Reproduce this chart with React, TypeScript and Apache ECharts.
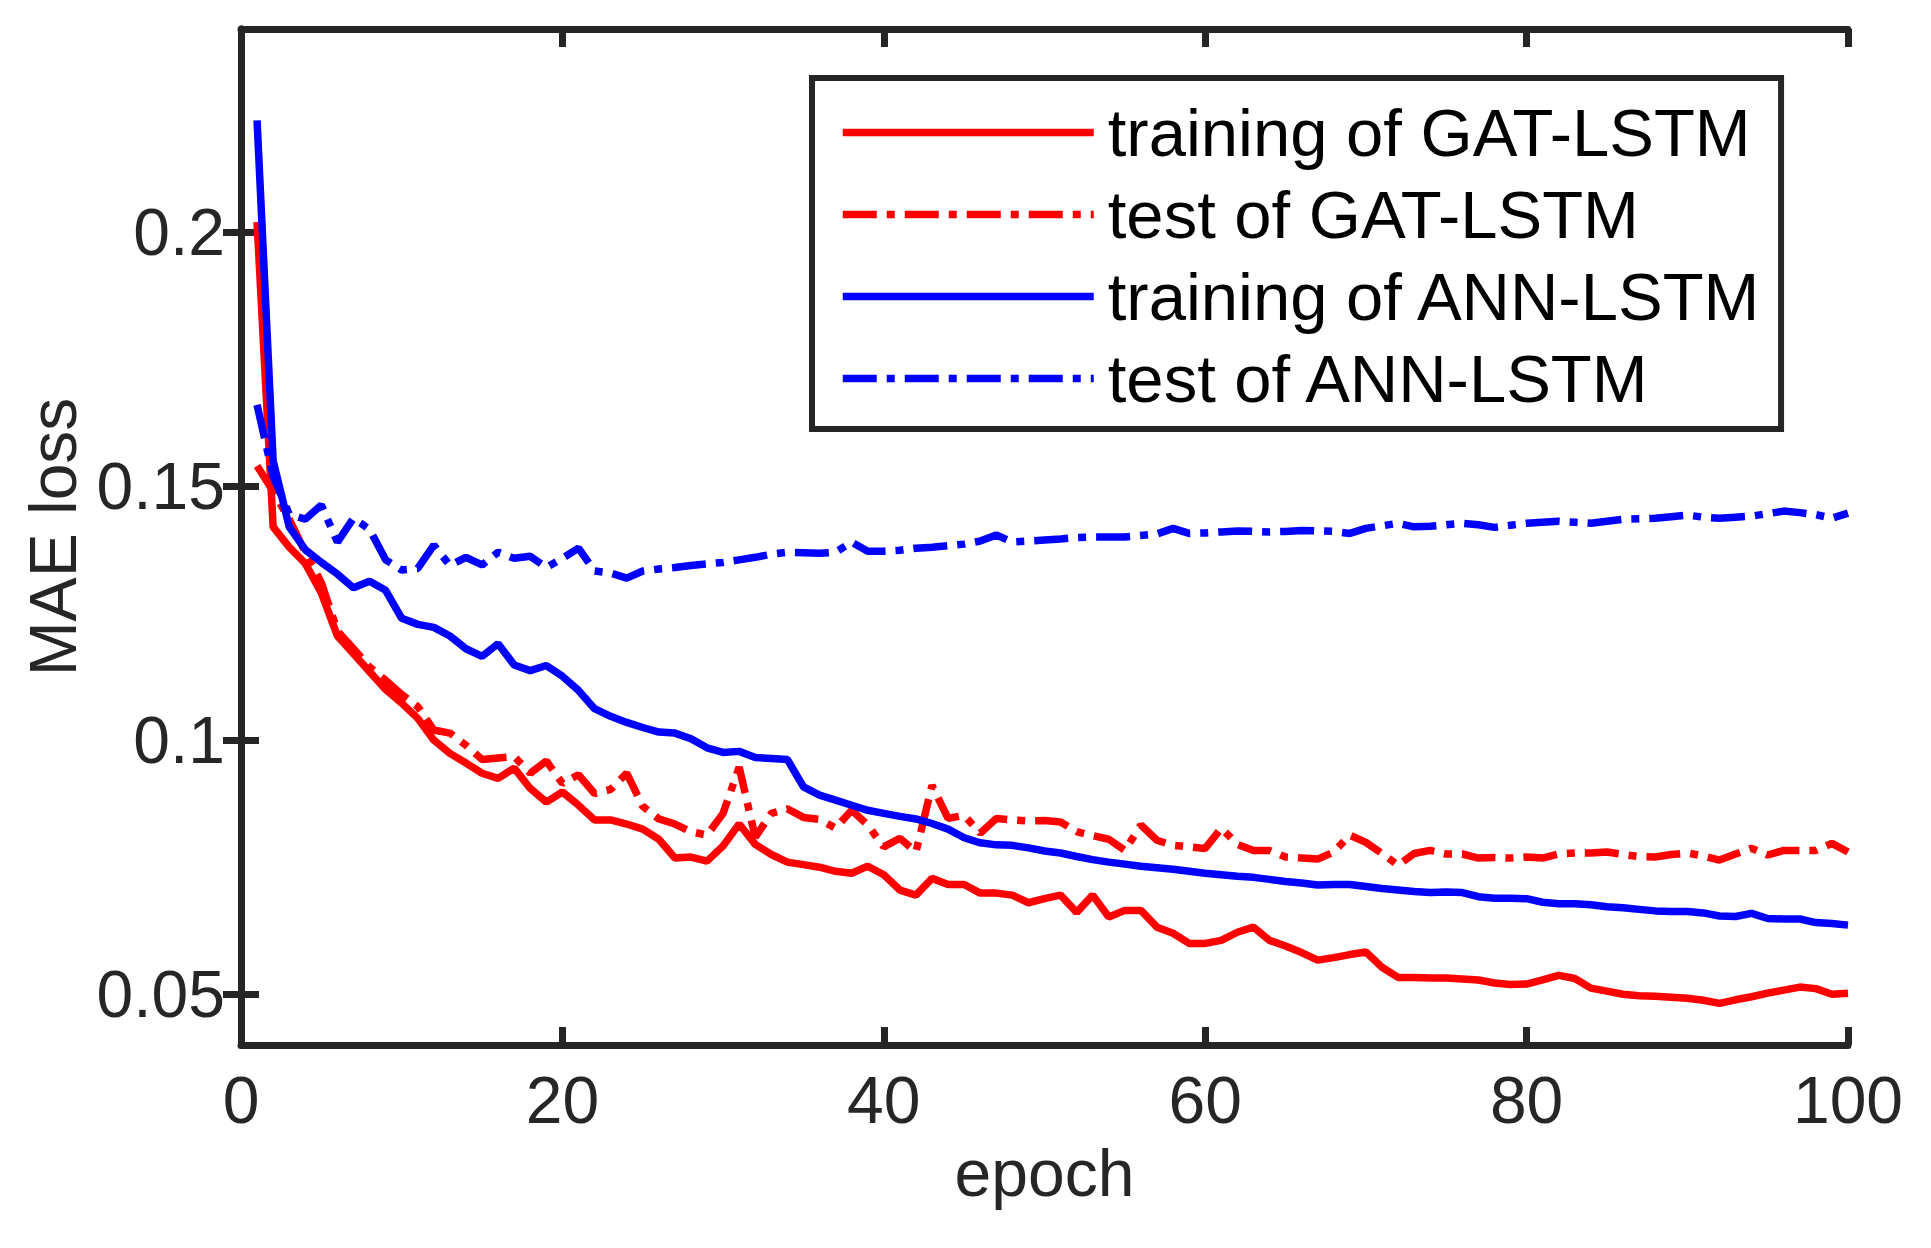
import React, { useEffect, useRef } from 'react';
import * as echarts from 'echarts';

// epochs 1..100
const epochs: number[] = Array.from({ length: 100 }, (_, i) => i + 1);

const seriesNames = [
  'training of GAT-LSTM',
  'test of GAT-LSTM',
  'training of ANN-LSTM',
  'test of ANN-LSTM',
];

const trainGat: number[] = [
  0.202, 0.142, 0.138, 0.1348, 0.129, 0.1205, 0.117, 0.1135, 0.11, 0.1073,
  0.1043, 0.1, 0.0974, 0.0955, 0.0935, 0.0925, 0.0945, 0.0905, 0.0878, 0.0898,
  0.0872, 0.0843, 0.0843, 0.0835, 0.0825, 0.0805, 0.0768, 0.077, 0.0762, 0.0792,
  0.0835, 0.0795, 0.0775, 0.076, 0.0755, 0.075, 0.0742, 0.0738, 0.0752, 0.0735,
  0.0705, 0.0695, 0.0728, 0.0716, 0.0716, 0.0699, 0.0699, 0.0695, 0.068, 0.0688,
  0.0695, 0.0661, 0.0695, 0.0652, 0.0665, 0.0665, 0.0632, 0.062, 0.06, 0.06,
  0.0606, 0.0622, 0.0632, 0.0606, 0.0595, 0.0582, 0.0567, 0.0572, 0.0578, 0.0583,
  0.0553, 0.0533, 0.0533, 0.0532, 0.0532, 0.053, 0.0528, 0.0522, 0.0519, 0.052,
  0.0528, 0.0537, 0.0531, 0.0512, 0.0506, 0.05, 0.0497, 0.0496, 0.0494, 0.0492,
  0.0488, 0.0482, 0.0489, 0.0495, 0.0502, 0.0508, 0.0514, 0.0511, 0.05, 0.0502,
];

const testGat: number[] = [
  0.154, 0.149, 0.1435, 0.137, 0.131, 0.1215, 0.118, 0.1144, 0.1118, 0.109,
  0.1066, 0.102, 0.1014, 0.099, 0.0962, 0.0965, 0.0968, 0.0935, 0.0959, 0.0915,
  0.0932, 0.0895, 0.0903, 0.0935, 0.087, 0.0845, 0.0835, 0.082, 0.0813, 0.0856,
  0.0947, 0.0809, 0.0856, 0.0865, 0.0848, 0.0844, 0.0827, 0.0862, 0.0833, 0.079,
  0.0807, 0.078, 0.0911, 0.0846, 0.0852, 0.0817, 0.0846, 0.0843, 0.0841, 0.0842,
  0.0839, 0.082, 0.0812, 0.0805, 0.0783, 0.0833, 0.0803, 0.0793, 0.079, 0.0787,
  0.0827, 0.0795, 0.0783, 0.0783, 0.077, 0.0768, 0.0766, 0.078, 0.0813, 0.0799,
  0.0777, 0.0754, 0.0777, 0.0783, 0.0776, 0.0776, 0.0768, 0.0769, 0.0768, 0.077,
  0.0768, 0.0776, 0.0778, 0.0778, 0.078, 0.0775, 0.0771, 0.077, 0.0775, 0.0778,
  0.0772, 0.0764, 0.0776, 0.0787, 0.0774, 0.0783, 0.0783, 0.0783, 0.0797, 0.078,
];

const trainAnn: number[] = [
  0.222, 0.155, 0.142, 0.1375, 0.135, 0.1327, 0.13, 0.1313, 0.1295, 0.124,
  0.1228, 0.1222, 0.1205, 0.118, 0.1165, 0.119, 0.1148, 0.1137, 0.1147, 0.1126,
  0.1098, 0.1062, 0.1047, 0.1035, 0.1025, 0.1016, 0.1014, 0.1003, 0.0985, 0.0976,
  0.0978, 0.0966, 0.0964, 0.0962, 0.0908, 0.0892, 0.0882, 0.0872, 0.0862, 0.0856,
  0.085, 0.0845, 0.0836, 0.0825, 0.0808, 0.0798, 0.0794, 0.0793, 0.0788, 0.0782,
  0.0778, 0.0771, 0.0765, 0.076, 0.0756, 0.0752, 0.0749, 0.0746, 0.0742, 0.0738,
  0.0735, 0.0732, 0.073, 0.0726, 0.0722, 0.0719, 0.0715, 0.0716, 0.0716, 0.0712,
  0.0708, 0.0705, 0.0702, 0.07, 0.0701, 0.07, 0.0692, 0.0689, 0.0689, 0.0688,
  0.0681, 0.0678, 0.0678, 0.0676, 0.0672, 0.067, 0.0667, 0.0664, 0.0663, 0.0663,
  0.066, 0.0654, 0.0653, 0.0659, 0.0649, 0.0648, 0.0648, 0.0641, 0.0639, 0.0636,
];

const testAnn: number[] = [
  0.166, 0.152, 0.1445, 0.1435, 0.1463, 0.139, 0.1437, 0.1415, 0.1355, 0.1335,
  0.1338, 0.1384, 0.1344, 0.136, 0.1345, 0.137, 0.1358, 0.1362, 0.134, 0.1358,
  0.1378, 0.1333, 0.1329, 0.1319, 0.1333, 0.1337, 0.134, 0.1344, 0.1347, 0.135,
  0.1355, 0.136, 0.1366, 0.137, 0.1369, 0.1368, 0.137, 0.139, 0.1372, 0.1372,
  0.1374, 0.1378, 0.138, 0.1383, 0.1386, 0.1392, 0.1404, 0.139, 0.1392, 0.1394,
  0.1396, 0.1399, 0.14, 0.14, 0.14, 0.1403, 0.1406, 0.1417, 0.1407, 0.1408,
  0.141, 0.1412, 0.1411, 0.141, 0.1411, 0.1413, 0.1412, 0.1411, 0.1407, 0.1417,
  0.1422, 0.1427, 0.142, 0.1421, 0.1424, 0.1427, 0.1424, 0.1419, 0.1423, 0.1427,
  0.1429, 0.1431, 0.1429, 0.1427, 0.1431, 0.1435, 0.1436, 0.1437, 0.144, 0.1443,
  0.1439, 0.1437, 0.1439, 0.1441, 0.1446, 0.1451, 0.1448, 0.1444, 0.1437, 0.1447,
];

const yTicks: number[] = [0.05, 0.1, 0.15, 0.2];

const FONT = '"Liberation Sans", Arial, Helvetica, sans-serif';
const AXIS_COLOR = '#262626';
const LINE_W = 7.5;
const DASH_DOT = [34, 10, 8, 10];

const App: React.FC = () => {
  const chartRef = useRef<HTMLDivElement>(null);

  useEffect(() => {
    document.body.style.margin = '0';
    if (!chartRef.current) return;
    const chart = echarts.init(chartRef.current, undefined, { renderer: 'svg' });

    const pairs = (vals: number[]) => epochs.map((e, i) => [e, vals[i]]);

    const lineSeries = (name: string, vals: number[], color: string, dashed: boolean) => ({
      name,
      type: 'line',
      data: pairs(vals),
      showSymbol: false,
      symbol: 'none',
      lineStyle: { color, width: LINE_W, type: dashed ? DASH_DOT : 'solid' },
      itemStyle: { color },
      xAxisIndex: 0,
      yAxisIndex: 0,
    });

    const axisLine = { show: true, lineStyle: { color: AXIS_COLOR, width: 7 } };
    const tick = { show: true, inside: true, length: 18, lineStyle: { color: AXIS_COLOR, width: 7 } };

    const option = {
      animation: false,
      backgroundColor: '#ffffff',
      grid: { left: 241, right: 83, top: 29, bottom: 203, containLabel: false },
      legend: {
        data: seriesNames,
        orient: 'vertical',
        left: 812,
        top: 78,
        padding: [21, 18, 17, 27],
        itemWidth: 251,
        itemHeight: 40,
        itemGap: 15,
        backgroundColor: '#ffffff',
        borderColor: AXIS_COLOR,
        borderWidth: 6,
        lineStyle: { width: LINE_W },
        itemStyle: { color: 'transparent', borderWidth: 0, opacity: 0 },
        textStyle: {
          fontFamily: FONT,
          fontSize: 67,
          lineHeight: 66,
          color: '#000000',
          padding: [0, 0, 0, 9],
        },
      },
      xAxis: [
        {
          type: 'value',
          min: 0,
          max: 100,
          interval: 20,
          name: 'epoch',
          nameLocation: 'middle',
          nameGap: 95,
          nameTextStyle: { fontFamily: FONT, fontSize: 66, color: AXIS_COLOR },
          axisLine,
          axisTick: tick,
          splitLine: { show: false },
          axisLabel: { fontFamily: FONT, fontSize: 66, color: AXIS_COLOR, margin: 22 },
        },
        {
          type: 'value',
          position: 'top',
          min: 0,
          max: 100,
          interval: 20,
          axisLine,
          axisTick: tick,
          splitLine: { show: false },
          axisLabel: { show: false },
        },
      ],
      yAxis: [
        {
          type: 'value',
          min: 0.04,
          max: 0.24,
          name: 'MAE loss',
          nameLocation: 'middle',
          nameGap: 150,
          nameTextStyle: { fontFamily: FONT, fontSize: 66, color: AXIS_COLOR },
          axisLine,
          axisTick: { ...tick, customValues: yTicks },
          splitLine: { show: false },
          axisLabel: {
            fontFamily: FONT,
            fontSize: 66,
            color: AXIS_COLOR,
            margin: 16,
            customValues: yTicks,
            formatter: (v: number) => String(v),
          },
        },
        {
          type: 'value',
          position: 'right',
          min: 0.04,
          max: 0.24,
          axisLine,
          axisTick: { ...tick, customValues: yTicks },
          splitLine: { show: false },
          axisLabel: { show: false, customValues: yTicks },
        },
      ],
      series: [
        lineSeries(seriesNames[0], trainGat, '#ff0000', false),
        lineSeries(seriesNames[1], testGat, '#ff0000', true),
        lineSeries(seriesNames[2], trainAnn, '#0000ff', false),
        lineSeries(seriesNames[3], testAnn, '#0000ff', true),
      ],
    };

    chart.setOption(option);

    return () => {
      chart.dispose();
    };
  }, []);

  return <div ref={chartRef} style={{ width: 1931, height: 1248 }} />;
};

export default App;
